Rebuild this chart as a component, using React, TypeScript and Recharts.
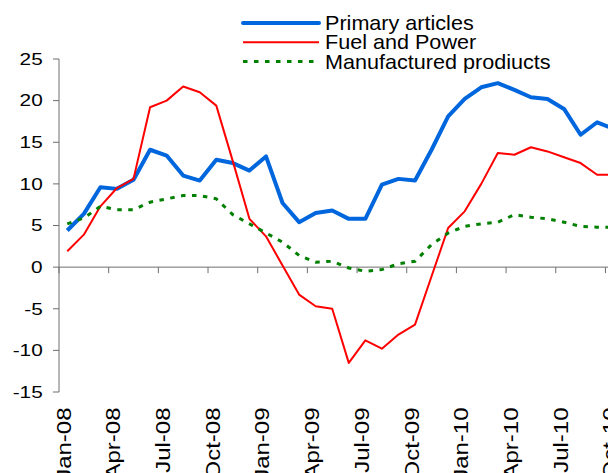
import React from 'react';
import { LineChart, Line, XAxis, YAxis, ReferenceLine, Legend } from 'recharts';

const months = [
  'Jan-08', 'Feb-08', 'Mar-08', 'Apr-08', 'May-08', 'Jun-08', 'Jul-08', 'Aug-08', 'Sep-08', 'Oct-08', 'Nov-08', 'Dec-08',
  'Jan-09', 'Feb-09', 'Mar-09', 'Apr-09', 'May-09', 'Jun-09', 'Jul-09', 'Aug-09', 'Sep-09', 'Oct-09', 'Nov-09', 'Dec-09',
  'Jan-10', 'Feb-10', 'Mar-10', 'Apr-10', 'May-10', 'Jun-10', 'Jul-10', 'Aug-10', 'Sep-10', 'Oct-10',
];

const primaryArticles = [
  4.4, 6.4, 9.6, 9.4, 10.5, 14.1, 13.4, 11.0, 10.4, 12.9, 12.5, 11.6,
  13.3, 7.7, 5.4, 6.5, 6.8, 5.8, 5.8, 9.9, 10.6, 10.4, 14.1, 18.1,
  20.2, 21.6, 22.1, 21.3, 20.4, 20.2, 19.0, 15.9, 17.4, 16.6,
];

const fuelAndPower = [
  1.9, 3.9, 7.3, 9.5, 10.6, 19.2, 20.0, 21.7, 21.0, 19.4, 12.7, 5.8,
  3.7, 0.2, -3.3, -4.7, -5.0, -11.5, -8.8, -9.8, -8.1, -6.9, -1.1, 4.7,
  6.7, 10.0, 13.7, 13.5, 14.4, 13.9, 13.2, 12.5, 11.1, 11.1,
];

const manufacturedProducts = [
  5.2, 5.9, 7.3, 6.9, 6.9, 7.8, 8.2, 8.6, 8.6, 8.2, 6.3, 5.2,
  4.1, 3.0, 1.4, 0.6, 0.7, -0.1, -0.5, -0.3, 0.4, 0.7, 2.7, 4.1,
  4.9, 5.2, 5.4, 6.3, 6.0, 5.8, 5.4, 4.9, 4.8, 4.8,
];

const yTicks = [-15, -10, -5, 0, 5, 10, 15, 20, 25];

const seriesNames = ['Primary articles', 'Fuel and Power', 'Manufactured prodiucts'];

const data = months.map((m, i) => ({
  month: m,
  primary: primaryArticles[i],
  fuel: fuelAndPower[i],
  manuf: manufacturedProducts[i],
}));

const FONT = '"Liberation Sans", Arial, sans-serif';
const AXIS = '#6e6e6e';
const BLUE = '#0066dd';
const RED = '#ff0000';
const GREEN = '#008000';

const CHART_W = 640;
const CHART_H = 500;
const MARGIN = { top: 51, right: 26, bottom: 16, left: 0 };
const Y_AXIS_W = 51;
const X_AXIS_H = 100;
const PLOT_H = CHART_H - MARGIN.top - MARGIN.bottom - X_AXIS_H;
const PLOT_W = CHART_W - MARGIN.left - MARGIN.right - Y_AXIS_W;
const Y_MIN = -15;
const Y_MAX = 25;
const ZERO_Y = MARGIN.top + (PLOT_H * (Y_MAX - 0)) / (Y_MAX - Y_MIN);
const BAND = PLOT_W / months.length;
const PLOT_BOTTOM = MARGIN.top + PLOT_H;

const XTick = (props: any) => {
  const { x, payload } = props;
  return (
    <g>
      <line x1={x - BAND / 2} x2={x - BAND / 2} y1={ZERO_Y} y2={ZERO_Y + 6} stroke={AXIS} strokeWidth={1} />
      <text
        transform={`translate(${x + 3.5},${PLOT_BOTTOM + 15.5}) rotate(-90) scale(1.2,1)`}
        textAnchor="end"
        fontSize={20}
        fill="#000"
        fontFamily={FONT}
      >
        {payload.value}
      </text>
    </g>
  );
};

const YTick = (props: any) => {
  const { x, y, payload } = props;
  return (
    <text
      transform={`translate(${x - 8.3},${y}) scale(1.3,1)`}
      textAnchor="end"
      dy="0.36em"
      fontSize={16}
      fill="#000"
      fontFamily={FONT}
    >
      {payload.value}
    </text>
  );
};

const legendStyles = [
  { color: BLUE, width: 4, dash: undefined as string | undefined, cap: 'round' as const },
  { color: RED, width: 2, dash: undefined as string | undefined, cap: 'butt' as const },
  { color: GREEN, width: 3, dash: '4.5 6.5', cap: 'butt' as const },
];

const LegendContent = () => (
  <svg width={340} height={64} style={{ display: 'block', overflow: 'visible' }}>
    {seriesNames.map((name, i) => {
      const cy = 10 + i * 19.2;
      const s = legendStyles[i];
      return (
        <g key={name}>
          <line
            x1={0}
            x2={76}
            y1={cy}
            y2={cy}
            stroke={s.color}
            strokeWidth={s.width}
            strokeDasharray={s.dash}
            strokeLinecap={s.cap}
          />
          <text
            transform={`translate(82,${cy}) scale(1.08,1)`}
            dy="0.36em"
            fontSize={20}
            fill="#000"
            fontFamily={FONT}
          >
            {name}
          </text>
        </g>
      );
    })}
  </svg>
);

export default function App() {
  return (
    <div style={{ width: 608, height: 465, overflow: 'hidden', position: 'relative' }}>
      <LineChart width={CHART_W} height={CHART_H} data={data} margin={MARGIN}>
        <XAxis
          dataKey="month"
          interval={2}
          axisLine={false}
          tickLine={false}
          tickSize={0}
          tickMargin={0}
          height={X_AXIS_H}
          padding={{ left: BAND / 2, right: BAND / 2 }}
          tick={<XTick />}
        />
        <YAxis
          domain={[Y_MIN, Y_MAX]}
          ticks={yTicks}
          interval={0}
          width={Y_AXIS_W}
          axisLine={{ stroke: AXIS }}
          tickLine={{ stroke: AXIS }}
          tickSize={6}
          tickMargin={2}
          tick={<YTick />}
        />
        <ReferenceLine y={0} stroke={AXIS} strokeWidth={1} ifOverflow="extendDomain" />
        <Legend
          layout="vertical"
          align="center"
          verticalAlign="middle"
          content={<LegendContent />}
          wrapperStyle={{ position: 'absolute', left: 235.3, top: 5, width: 340, height: 64 }}
        />
        <Line
          type="linear"
          dataKey="primary"
          name={seriesNames[0]}
          stroke={BLUE}
          strokeWidth={4}
          strokeLinejoin="round"
          dot={false}
          activeDot={false}
          isAnimationActive={false}
        />
        <Line
          type="linear"
          dataKey="fuel"
          name={seriesNames[1]}
          stroke={RED}
          strokeWidth={2}
          strokeLinejoin="round"
          dot={false}
          activeDot={false}
          isAnimationActive={false}
        />
        <Line
          type="linear"
          dataKey="manuf"
          name={seriesNames[2]}
          stroke={GREEN}
          strokeWidth={3}
          strokeDasharray="4.5 6.5"
          dot={false}
          activeDot={false}
          isAnimationActive={false}
        />
      </LineChart>
    </div>
  );
}
